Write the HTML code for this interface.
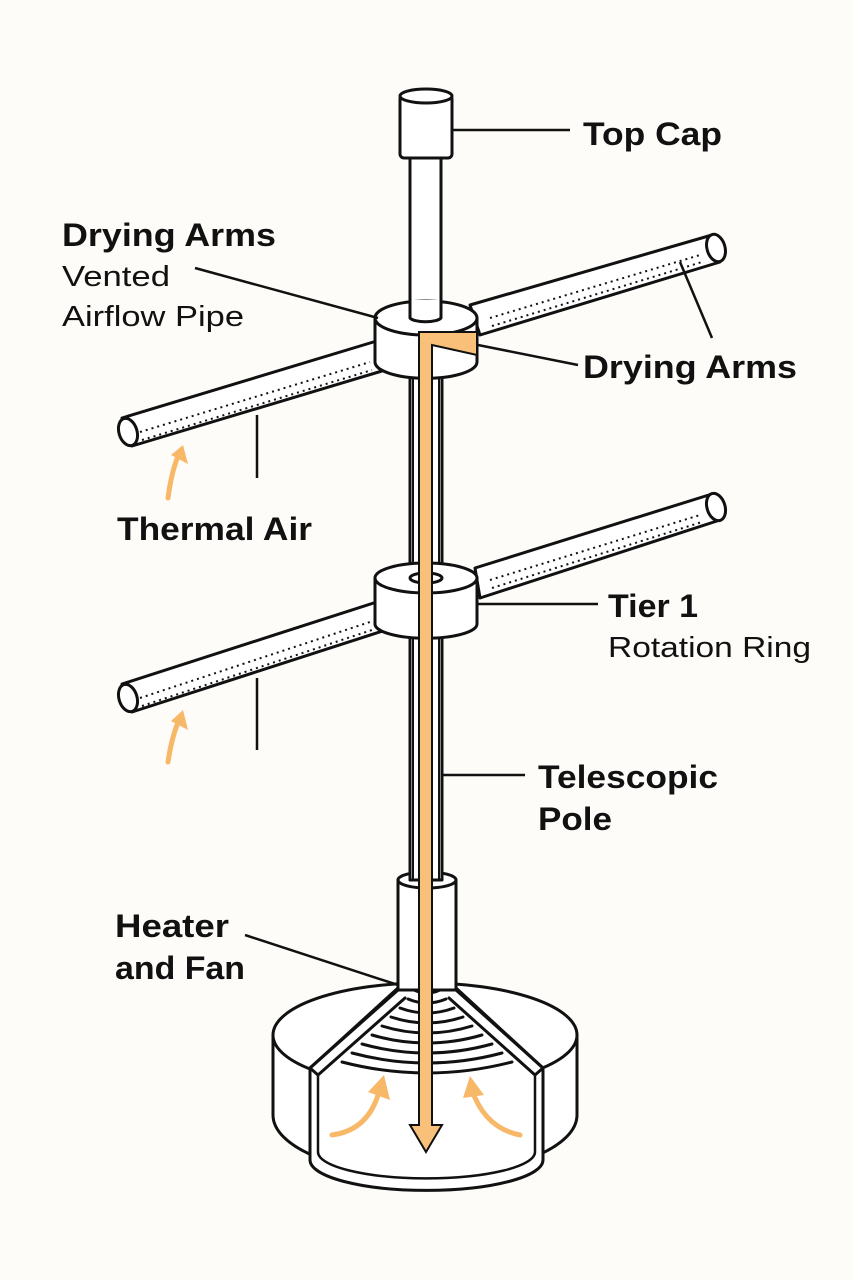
<!DOCTYPE html>
<html><head><meta charset="utf-8"><style>
html,body{margin:0;padding:0;background:#fdfcf9;}
svg{display:block}
text{font-family:"Liberation Sans",sans-serif;fill:#111;}
.b{font-weight:bold;font-size:32px}
.r{font-size:29px}
</style></head><body>
<svg width="853" height="1280" viewBox="0 0 853 1280" xmlns="http://www.w3.org/2000/svg">
<rect width="853" height="1280" fill="#fdfcf9"/>
<g fill="#fff" stroke="#111" stroke-width="3" stroke-linejoin="round" stroke-linecap="round">
<!-- base -->
<path d="M273 1035 L273 1115 A152 60 0 0 0 577 1115 L577 1035"/>
<ellipse cx="425" cy="1035" rx="152" ry="52"/>
<path d="M310 1068 L310 1160 A115 30 0 0 0 543 1160 L543 1068 L456 990 L398 990 Z" />
<path d="M318 1075 L318 1152 A107 26 0 0 0 535 1152 L535 1075" fill="none" stroke-width="2.5"/>
<path d="M398 880 L398 988 L310 1068 L318 1075 L405 998 M456 880 L456 988 L543 1068 L535 1075 L449 998" fill="none"/>
<rect x="399" y="880" width="56" height="108" stroke="none"/>
<path d="M398 880 L398 988 M456 880 L456 988" fill="none"/>
<ellipse cx="427" cy="880" rx="29" ry="8"/>
<g fill="none" stroke-width="3">
<path d="M414 990 Q427 996 440 990"/>
<path d="M408 999 Q427 1007 446 999"/>
<path d="M400 1008 Q427 1018 454 1008"/>
<path d="M391 1017 Q427 1029 463 1017"/>
<path d="M382 1026 Q427 1040 472 1026"/>
<path d="M372 1035 Q427 1051 482 1035"/>
<path d="M362 1044 Q427 1062 492 1044"/>
<path d="M352 1053 Q427 1073 502 1053"/>
<path d="M342 1062 Q427 1084 512 1062"/>
</g>
<!-- pole -->
<rect x="410" y="360" width="32" height="520"/>
<rect x="413" y="360" width="26" height="520" fill="none" stroke-width="2"/>
<!-- top cap & upper pole -->
<rect x="410" y="150" width="31" height="160"/>
<rect x="400" y="95" width="52" height="63" rx="4"/>
<ellipse cx="426" cy="96" rx="26" ry="7"/>
<!-- top arms -->
<path d="M470 305 L712 235 L720 262 L480 335 Z"/>
<ellipse cx="716" cy="248" rx="9" ry="14" transform="rotate(-16 716 248)"/>
<path d="M122 418 L380 340 L392 368 L132 446 Z"/>
<ellipse cx="128" cy="432" rx="9" ry="14" transform="rotate(-17 128 432)"/>
<!-- top hub -->
<path d="M375 318 L375 362 A50 16 0 0 0 477 362 L477 318"/>
<ellipse cx="426" cy="318" rx="51" ry="17"/>
<path d="M410 300 L410 318 A16 5 0 0 0 441 318 L441 300" />
<!-- second arms -->
<path d="M475 568 L712 494 L720 520 L480 598 Z"/>
<ellipse cx="716" cy="507" rx="9" ry="14" transform="rotate(-17 716 507)"/>
<path d="M122 684 L383 600 L392 628 L132 712 Z"/>
<ellipse cx="128" cy="698" rx="9" ry="14" transform="rotate(-17 128 698)"/>
<!-- tier hub -->
<path d="M375 578 L375 624 A50 14 0 0 0 477 624 L477 578"/>
<ellipse cx="426" cy="578" rx="51" ry="15"/>
<ellipse cx="426" cy="578" rx="16" ry="5"/>
</g>
<!-- dots -->
<g stroke="#111" stroke-width="2" stroke-dasharray="2 4" fill="none">
<path d="M490 318 L700 255"/><path d="M492 326 L702 262"/>
<path d="M140 432 L370 362"/><path d="M142 440 L372 370"/>
<path d="M490 580 L700 515"/><path d="M492 588 L702 522"/>
<path d="M140 698 L370 622"/><path d="M142 706 L372 630"/>
</g>
<!-- orange flow -->
<path d="M419 332 L477 332 L477 355 L432 345 L432 1125 L442 1125 L426 1152 L410 1125 L419 1125 Z" fill="#f9c07a" stroke="#111" stroke-width="2"/>
<g fill="none" stroke="#f7b867" stroke-width="5" stroke-linecap="round">
<path d="M168 498 Q172 468 180 452"/><path d="M168 762 Q172 735 180 718"/>
<path d="M332 1135 Q370 1130 380 1088"/><path d="M520 1135 Q485 1128 472 1090"/>
</g>
<g fill="#f7b867">
<path d="M171 455 L183 445 L188 464 Z"/><path d="M171 721 L183 710 L188 730 Z"/>
<path d="M368 1092 L384 1075 L390 1100 Z"/><path d="M463 1098 L470 1076 L484 1095 Z"/>
</g>
<!-- leader lines -->
<g stroke="#111" stroke-width="2.5" fill="none">
<path d="M452 130 L570 130"/><path d="M195 268 L378 318"/>
<path d="M478 345 L578 365"/><path d="M680 262 L712 338"/>
<path d="M257 415 L257 478"/><path d="M257 678 L257 750"/>
<path d="M478 604 L598 604"/><path d="M443 775 L525 775"/>
<path d="M245 935 L398 985"/>
</g>
<text class="b" x="583" y="145" textLength="139" lengthAdjust="spacingAndGlyphs">Top Cap</text>
<text class="b" x="62" y="246" textLength="214" lengthAdjust="spacingAndGlyphs">Drying Arms</text>
<text class="r" x="62" y="286" textLength="108" lengthAdjust="spacingAndGlyphs">Vented</text>
<text class="r" x="62" y="326" textLength="182" lengthAdjust="spacingAndGlyphs">Airflow Pipe</text>
<text class="b" x="583" y="378" textLength="214" lengthAdjust="spacingAndGlyphs">Drying Arms</text>
<text class="b" x="117" y="540" textLength="195" lengthAdjust="spacingAndGlyphs">Thermal Air</text>
<text class="b" x="608" y="617" textLength="90" lengthAdjust="spacingAndGlyphs">Tier 1</text>
<text class="r" x="608" y="657" textLength="203" lengthAdjust="spacingAndGlyphs">Rotation Ring</text>
<text class="b" x="538" y="788" textLength="180" lengthAdjust="spacingAndGlyphs">Telescopic</text>
<text class="b" x="538" y="830" textLength="74" lengthAdjust="spacingAndGlyphs">Pole</text>
<text class="b" x="115" y="937" textLength="114" lengthAdjust="spacingAndGlyphs">Heater</text>
<text class="b" x="115" y="979" textLength="130" lengthAdjust="spacingAndGlyphs">and Fan</text>
</svg>
</body></html>
